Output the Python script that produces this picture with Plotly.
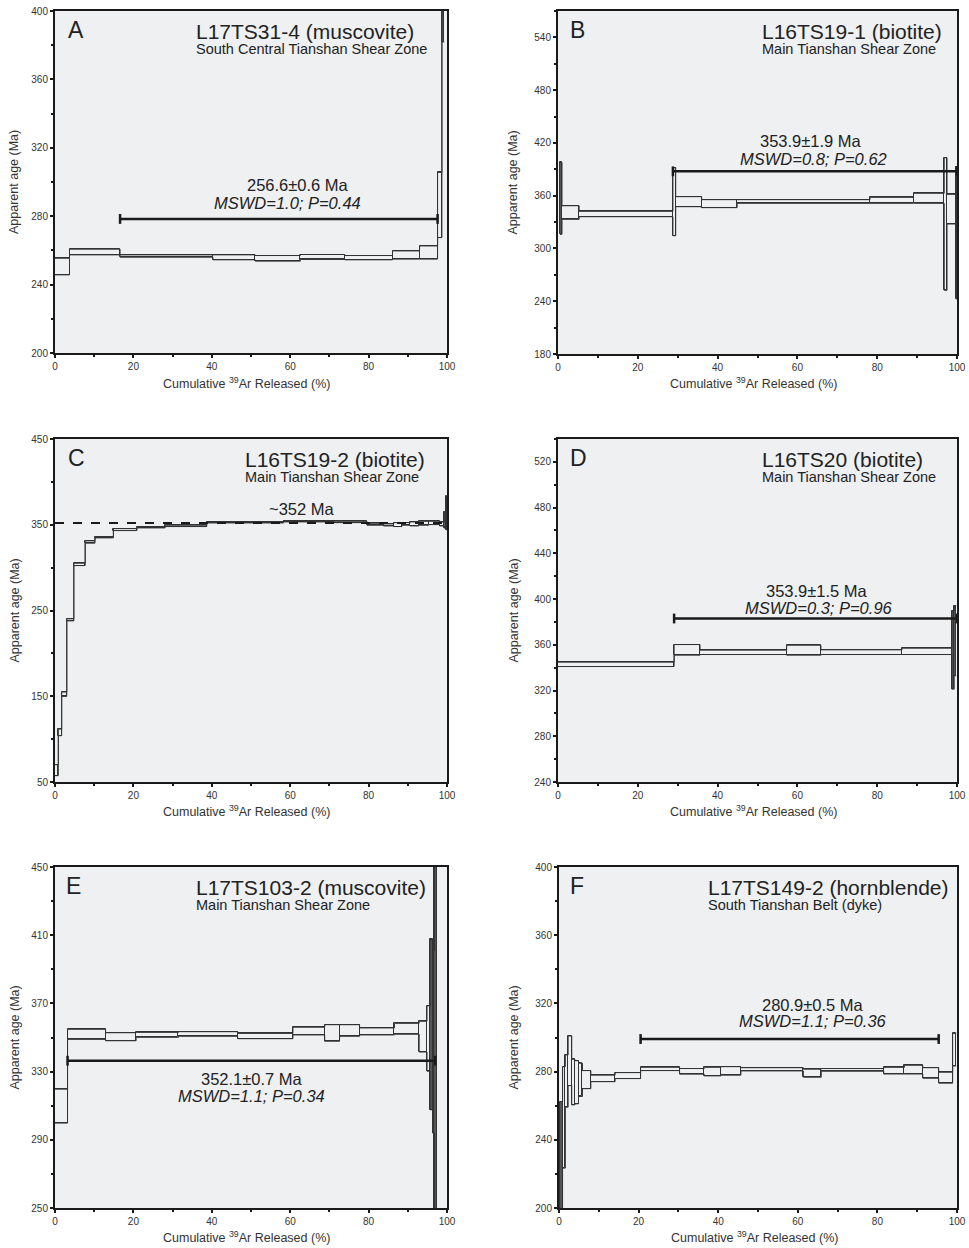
import plotly.graph_objects as go

W, H = 969, 1248

# ---------------- data ----------------
# Panel A  L17TS31-4 (muscovite)
a_edges = [0, 3.7, 16.6, 40.3, 51.1, 62.6, 73.9, 86.1, 93.0, 97.6, 98.7, 99.3]
a_lo = [245.7, 257.4, 256.0, 254.5, 253.7, 254.7, 254.5, 254.9, 254.9, 267.5, 381.9]
a_hi = [255.4, 260.7, 257.4, 257.4, 257.0, 257.6, 257.0, 259.7, 262.6, 305.6, 440.0]
a_plateau = [16.6, 97.6, 278.4]
a_age = "256.6±0.6 Ma"
a_stats = "MSWD=1.0; P=0.44"

# Panel B  L16TS19-1 (biotite)
b_edges = [0.5, 1.0, 5.3, 28.8, 29.5, 36.0, 44.9, 78.2, 89.1, 96.8, 97.5, 99.8, 100]
b_lo = [316.0, 333.1, 336.1, 314.5, 347.5, 346.4, 351.3, 351.3, 351.3, 252.4, 327.8, 242.5]
b_hi = [398.0, 348.6, 342.2, 391.8, 358.9, 355.5, 355.5, 358.1, 362.7, 403.2, 361.5, 393.0]
b_plateau = [28.8, 100, 387.7]
b_age = "353.9±1.9 Ma"
b_stats = "MSWD=0.8; P=0.62"

# Panel C  L16TS19-2 (biotite)
c_edges = [0, 0.85, 1.7, 3.0, 4.8, 7.7, 10.2, 14.9, 20.9, 28.1, 38.7, 58.3, 71.1,
           79.6, 83.8, 86.4, 88.5, 90.6, 92.8, 95.3, 98.1, 99.3, 99.8, 100]
c_lo = [57.4, 104.0, 149.8, 237.9, 302.4, 328.5, 334.7, 343.2, 346.3, 347.9, 352.1,
        353.3, 352.5, 349.4, 348.6, 347.9, 349.4, 348.6, 349.4, 350.2, 348.6, 346.0, 344.0]
c_hi = [70.2, 111.7, 154.9, 240.3, 305.1, 331.2, 336.2, 345.5, 347.9, 349.4, 353.7,
        354.9, 354.0, 351.7, 351.0, 352.5, 352.5, 353.3, 354.0, 354.0, 353.3, 365.3, 383.0]
c_ref_age = 352
c_label = "~352 Ma"

# Panel D  L16TS20 (biotite)
d_edges = [0, 29.1, 35.6, 57.3, 65.9, 86.2, 98.7, 99.3, 99.8]
d_lo = [341.0, 350.9, 351.5, 350.9, 351.5, 351.5, 321.2, 332.9]
d_hi = [344.8, 360.2, 355.3, 359.6, 355.6, 357.0, 389.6, 394.3]
d_plateau = [29.1, 100, 383.0]
d_age = "353.9±1.5 Ma"
d_stats = "MSWD=0.3; P=0.96"

# Panel E  L17TS103-2 (muscovite)
e_edges = [0, 3.2, 12.9, 20.7, 31.5, 46.6, 60.7, 68.8, 72.6, 77.7, 86.6, 92.9,
           94.9, 95.7, 96.3, 96.8, 97.4]
e_lo = [299.8, 348.9, 348.1, 350.1, 350.7, 349.3, 351.5, 347.8, 350.7, 351.5, 351.9,
        341.5, 330.2, 307.6, 294.0, 100.0]
e_hi = [319.7, 354.8, 352.8, 353.0, 353.4, 352.4, 356.0, 357.5, 357.5, 355.6, 358.3,
        359.5, 368.6, 407.5, 401.0, 600.0]
e_plateau = [3.2, 97.0, 336.4]
e_age = "352.1±0.7 Ma"
e_stats = "MSWD=1.1; P=0.34"

# Panel F  L17TS149-2 (hornblende)
f_edges = [0.3, 0.9, 1.6, 2.3, 3.2, 4.0, 4.9, 5.9, 8.0, 14.1, 20.5, 30.3, 36.5, 40.7,
           45.7, 61.4, 65.9, 81.6, 86.8, 91.4, 95.4, 98.9, 99.8]
f_lo = [150.0, 223.4, 259.1, 271.8, 260.5, 261.1, 265.4, 270.0, 274.1, 275.9, 280.6,
        278.5, 277.5, 277.9, 280.4, 276.7, 280.2, 278.6, 278.6, 276.1, 273.2, 283.3]
f_hi = [262.4, 282.9, 289.8, 300.9, 287.2, 286.4, 284.9, 280.6, 277.9, 279.4, 282.5,
        281.8, 282.5, 282.9, 282.3, 281.4, 281.8, 282.5, 283.7, 282.3, 279.6, 302.4]
f_plateau = [20.5, 95.4, 299.1]
f_age = "280.9±0.5 Ma"
f_stats = "MSWD=1.1; P=0.36"

letters = ["A", "B", "C", "D", "E", "F"]
samples = ["L17TS31-4 (muscovite)", "L16TS19-1 (biotite)", "L16TS19-2 (biotite)",
           "L16TS20 (biotite)", "L17TS103-2 (muscovite)", "L17TS149-2 (hornblende)"]
zones = ["South Central Tianshan Shear Zone", "Main Tianshan Shear Zone",
         "Main Tianshan Shear Zone", "Main Tianshan Shear Zone",
         "Main Tianshan Shear Zone", "South Tianshan Belt (dyke)"]
y_ranges = [[200, 400], [180, 570], [50, 450], [240, 540], [250, 450], [200, 400]]
y_ticks = [[200, 240, 280, 320, 360, 400], [180, 240, 300, 360, 420, 480, 540],
           [50, 150, 250, 350, 450], [240, 280, 320, 360, 400, 440, 480, 520],
           [250, 290, 330, 370, 410, 450], [200, 240, 280, 320, 360, 400]]
x_ticks = [0, 20, 40, 60, 80, 100]

# ---------------- layout geometry (pixels) ----------------
doms = [(55, 447, 11, 353), (558, 957, 11, 354), (55, 447, 439, 782),
        (558, 957, 439, 782), (55, 447, 867, 1208), (559, 957, 867, 1208)]
y_minor = [20, 30, 50, 20, 20, 20]
letter_x = [66, 568, 66, 568, 64, 568]
title_x = [194, 760, 243, 760, 194, 706]
xtitle_y = [383, 383, 811, 811, 1237, 1237]
ytitle_x = [14, 513, 14, 513, 14, 513]

# label positions in data coords: (x_age, y_age, x_stats, y_stats)
label_pos = [(62.0, 298, 59.3, 288), (63.3, 422, 64.0, 402), (62.8, 368, None, None),
             (64.8, 407, 65.3, 392.5), (50.3, 325.5, 50.2, 315.4), (63.8, 319, 63.8, 309.7)]

FONT = "Liberation Sans, Arial, sans-serif"
LINE = "#333333"

def px(x):
    return x / W

def py(y):
    return 1 - y / H

fig = go.Figure()

steps = [(a_edges, a_lo, a_hi), (b_edges, b_lo, b_hi), (c_edges, c_lo, c_hi),
         (d_edges, d_lo, d_hi), (e_edges, e_lo, e_hi), (f_edges, f_lo, f_hi)]
plateaus = [a_plateau, b_plateau, None, d_plateau, e_plateau, f_plateau]
ages = [a_age, b_age, c_label, d_age, e_age, f_age]
stats = [a_stats, b_stats, None, d_stats, e_stats, f_stats]

annotations = []
for i in range(6):
    xa = "x" if i == 0 else f"x{i+1}"
    ya = "y" if i == 0 else f"y{i+1}"
    edges, lo, hi = steps[i]
    n = len(lo)
    centers = [(edges[k] + edges[k + 1]) / 2 for k in range(n)]
    widths = [edges[k + 1] - edges[k] for k in range(n)]
    heights = [hi[k] - lo[k] for k in range(n)]
    fills = ["#555555" if w < 0.65 else "rgba(0,0,0,0)" for w in widths]
    fig.add_trace(go.Bar(x=centers, y=heights, base=lo, width=widths,
                         marker=dict(color=fills, line=dict(color=LINE, width=1)),
                         xaxis=xa, yaxis=ya, showlegend=False, hoverinfo="skip"))
    # upper and lower envelopes of the step spectrum
    for env in (hi, lo):
        fig.add_trace(go.Scatter(x=edges, y=list(env) + [env[-1]], mode="lines",
                                 line=dict(color=LINE, width=1, shape="hv"),
                                 xaxis=xa, yaxis=ya, showlegend=False, hoverinfo="skip"))
    p = plateaus[i]
    if p is not None:
        fig.add_trace(go.Scatter(x=[p[0], p[1]], y=[p[2], p[2]], mode="lines+markers",
                                 line=dict(color="#1a1a1a", width=2.5),
                                 marker=dict(symbol="line-ns", size=7,
                                             line=dict(color="#1a1a1a", width=2.5)),
                                 xaxis=xa, yaxis=ya, showlegend=False, cliponaxis=False,
                                 hoverinfo="skip"))
    else:
        fig.add_trace(go.Scatter(x=[0, 100], y=[c_ref_age, c_ref_age], mode="lines",
                                 line=dict(color="#1a1a1a", width=2, dash="dash"),
                                 xaxis=xa, yaxis=ya, showlegend=False, hoverinfo="skip"))

    x0, x1, y0, y1 = doms[i]
    axis_common = dict(showline=True, linewidth=2, linecolor="#1a1a1a", mirror=True,
                       showgrid=False, zeroline=False, ticks="outside", ticklen=3,
                       tickwidth=1.5, tickcolor="#1a1a1a", automargin=False,
                       tickfont=dict(family=FONT, size=10, color="#333333"))
    fig.layout[f"xaxis{'' if i == 0 else i+1}"] = dict(
        domain=[px(x0), px(x1)], anchor=ya, range=[0, 100], tickvals=x_ticks,
        minor=dict(dtick=10, ticks="outside", ticklen=2, tickwidth=1.5, tickcolor="#1a1a1a"),
        **axis_common)
    fig.layout[f"yaxis{'' if i == 0 else i+1}"] = dict(
        domain=[py(y1), py(y0)], anchor=xa, range=y_ranges[i], tickvals=y_ticks[i],
        minor=dict(dtick=y_minor[i], tick0=y_ranges[i][0], ticks="outside", ticklen=2,
                   tickwidth=1.5, tickcolor="#1a1a1a"),
        **axis_common)

    # panel letter, sample, zone
    annotations.append(dict(text=letters[i], x=px(letter_x[i]), y=py(y0 + 19),
                            xref="paper", yref="paper", xanchor="left", yanchor="middle",
                            showarrow=False, font=dict(family=FONT, size=23, color="#222222")))
    annotations.append(dict(text=samples[i], x=px(title_x[i]), y=py(y0 + 20),
                            xref="paper", yref="paper", xanchor="left", yanchor="middle",
                            showarrow=False, font=dict(family=FONT, size=21, color="#222222")))
    annotations.append(dict(text=zones[i], x=px(title_x[i]), y=py(y0 + 38),
                            xref="paper", yref="paper", xanchor="left", yanchor="middle",
                            showarrow=False, font=dict(family=FONT, size=14.5, color="#222222")))
    # axis titles
    annotations.append(dict(text="Apparent age (Ma)", x=px(ytitle_x[i]), y=py((y0 + y1) / 2),
                            xref="paper", yref="paper", xanchor="center", yanchor="middle",
                            textangle=-90, showarrow=False,
                            font=dict(family=FONT, size=12.5, color="#333333")))
    annotations.append(dict(text="Cumulative <sup>39</sup>Ar Released (%)",
                            x=px((x0 + x1) / 2 - 4), y=py(xtitle_y[i]),
                            xref="paper", yref="paper", xanchor="center", yanchor="middle",
                            showarrow=False, font=dict(family=FONT, size=12.5, color="#333333")))
    # age labels
    lp = label_pos[i]
    annotations.append(dict(text=ages[i], x=lp[0], y=lp[1], xref=xa, yref=ya,
                            xanchor="center", yanchor="middle", showarrow=False,
                            font=dict(family=FONT, size=16.5, color="#222222")))
    if stats[i] is not None:
        annotations.append(dict(text=f"<i>{stats[i]}</i>", x=lp[2], y=lp[3], xref=xa, yref=ya,
                                xanchor="center", yanchor="middle", showarrow=False,
                                font=dict(family=FONT, size=16.5, color="#222222")))

fig.update_layout(width=W, height=H, margin=dict(l=0, r=0, t=0, b=0, autoexpand=False),
                  paper_bgcolor="white", plot_bgcolor="#eef0f2",
                  barmode="overlay", bargap=0, annotations=annotations,
                  showlegend=False)

fig.write_html("out.html", config={"displayModeBar": False},
               post_script="document.body.style.margin='0';document.body.style.overflow='hidden';")
